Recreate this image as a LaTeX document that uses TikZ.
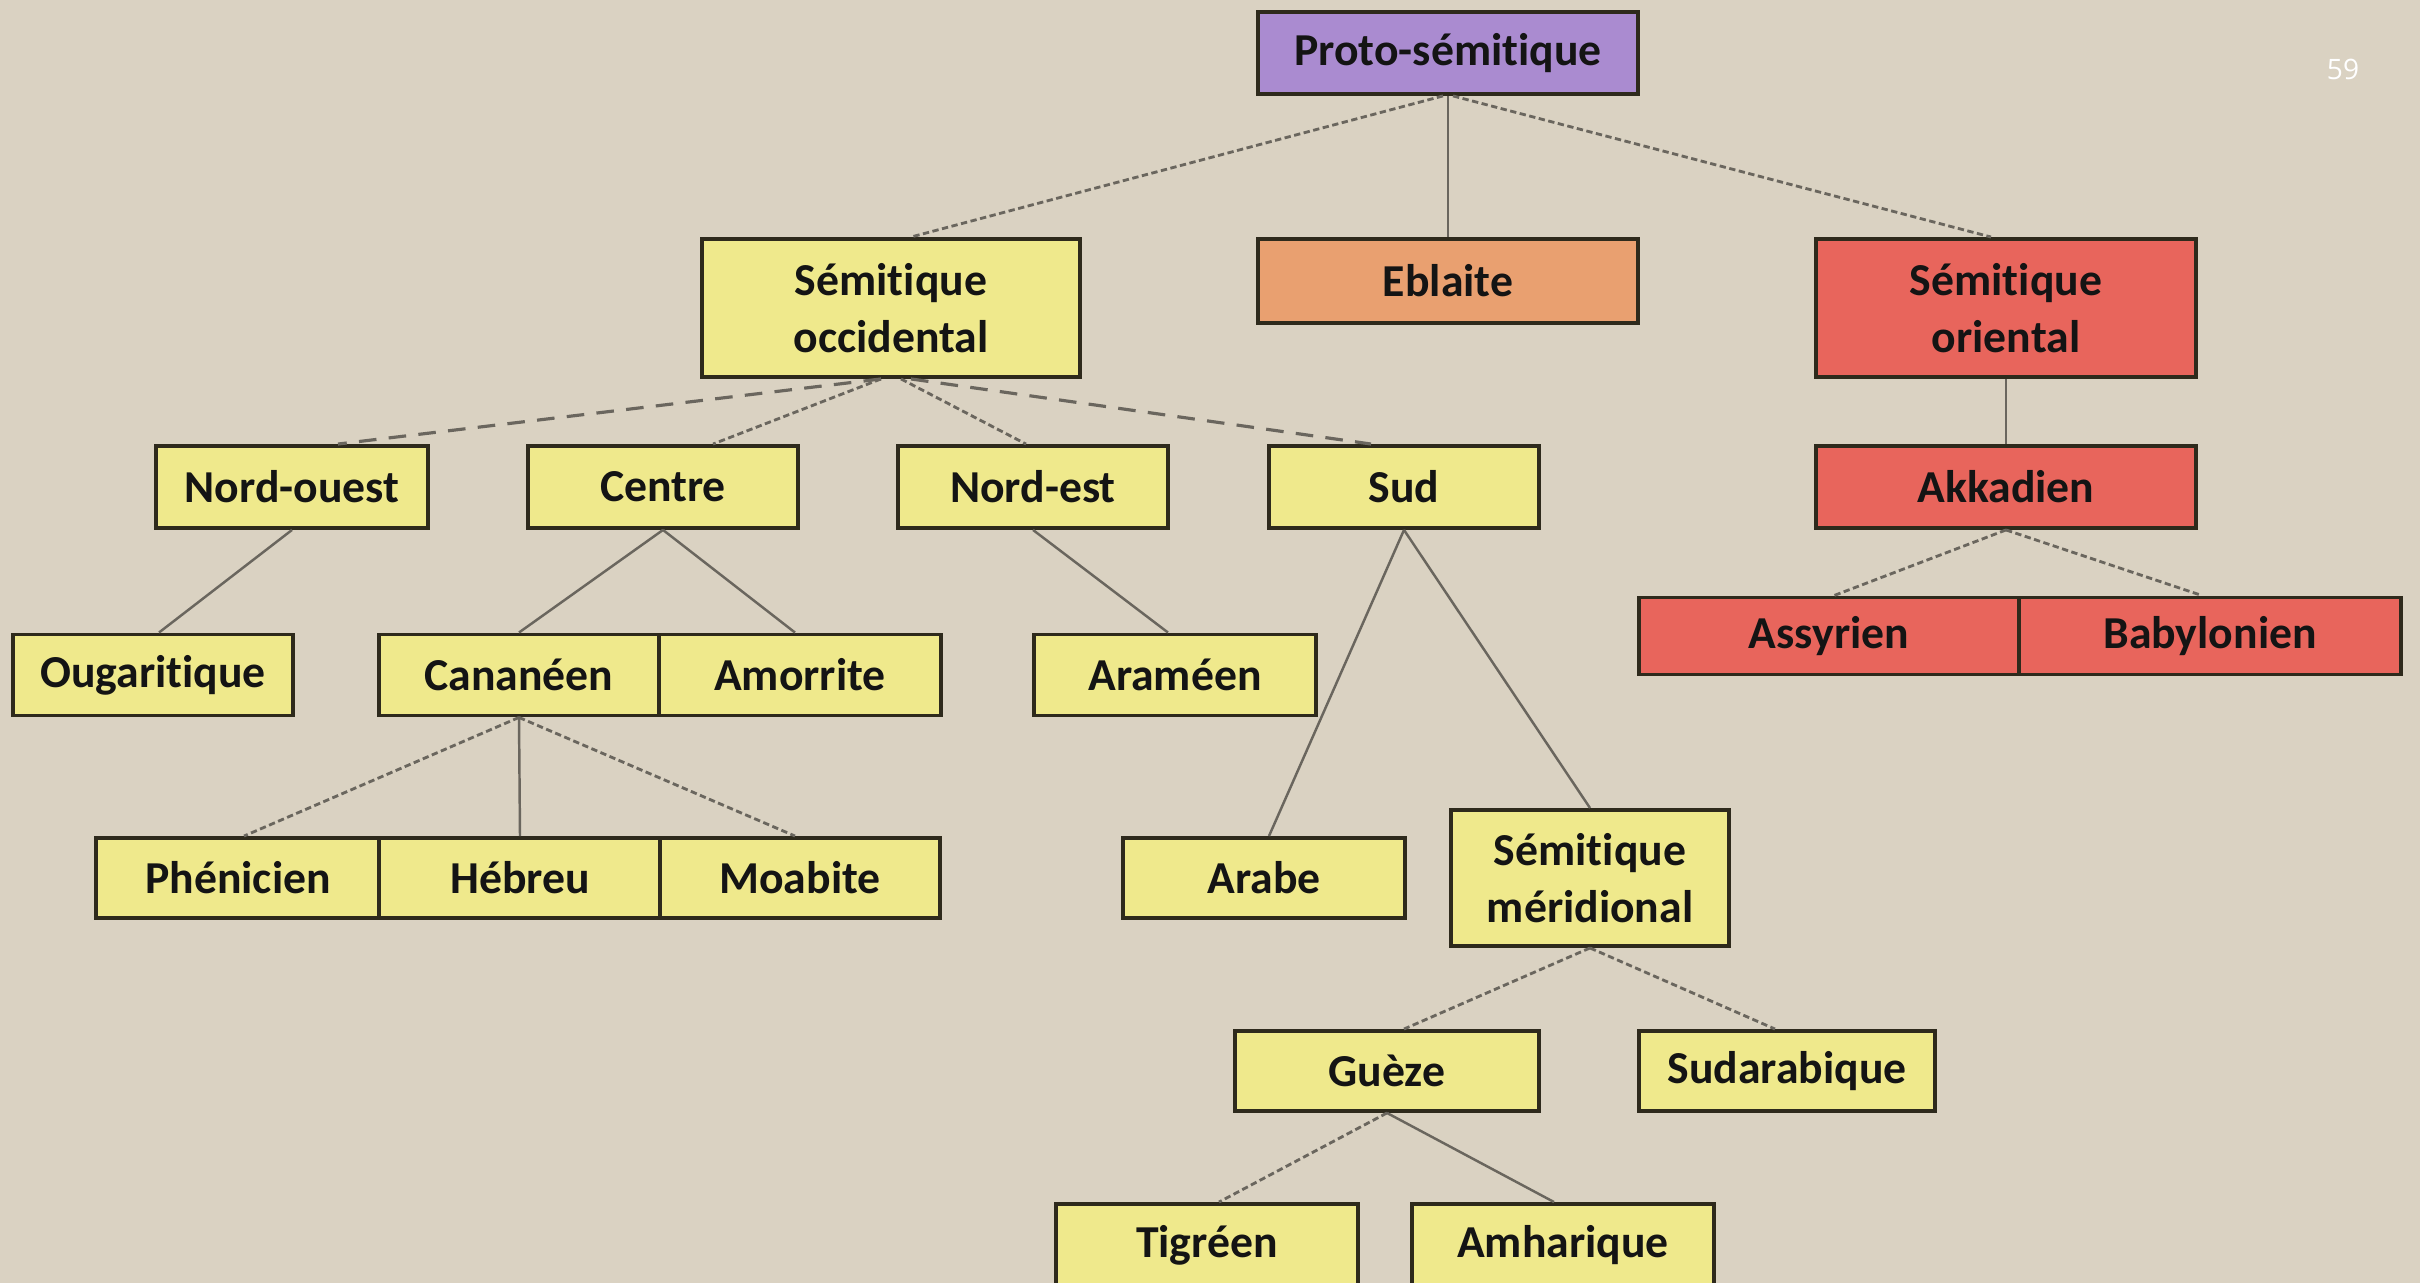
\documentclass[tikz,border=0pt]{standalone}
\usepackage{fontspec}
\setmainfont{Carlito}[Ligatures=NoCommon]
\newfontfamily\pagenumfont{Open Sans}
\definecolor{bgcol}{HTML}{DAD2C2}
\definecolor{boxline}{HTML}{2E2A1C}
\definecolor{ylwfill}{HTML}{EFE98C}
\definecolor{purpfill}{HTML}{AA8BD0}
\definecolor{orgfill}{HTML}{E9A070}
\definecolor{redfill}{HTML}{E8655C}
\definecolor{linkgray}{HTML}{6A665E}
\begin{document}
\begin{tikzpicture}[x=0.01cm,y=-0.01cm,
  lbox/.style={draw=boxline, line width=1.1pt, inner sep=0pt, align=center,
    font=\bfseries\fontsize{13}{16.2}\selectfont, text=black!92},
  ylw/.style={lbox, fill=ylwfill},
  purp/.style={lbox, fill=purpfill},
  org/.style={lbox, fill=orgfill},
  redb/.style={lbox, fill=redfill},
  solidlink/.style={draw=linkgray, line width=0.7pt},
  finedash/.style={draw=linkgray, line width=0.8pt, dash pattern=on 1.8pt off 1pt},
  coarsedash/.style={draw=linkgray, line width=0.9pt, dash pattern=on 5pt off 3.5pt},
]
\useasboundingbox (0,0) rectangle (2420,1283);
\clip (0,0) rectangle (2420,1283);
\fill[bgcol] (0,0) rectangle (2420,1283);

% row 1
\node[purp, minimum width=3.80cm, minimum height=0.82cm] (P) at (1448,53) {Proto-sémitique};
% row 2
\node[ylw, minimum width=3.78cm, minimum height=1.38cm] (SO) at (891,308) {Sémitique\\occidental};
\node[org, minimum width=3.80cm, minimum height=0.84cm] (EB) at (1448,281) {Eblaite};
\node[redb, minimum width=3.79cm, minimum height=1.38cm] (SOR) at (2006,308) {Sémitique\\oriental};
% row 3
\node[ylw, minimum width=2.71cm, minimum height=0.82cm] (NO) at (292,487) {Nord-ouest};
\node[ylw, minimum width=2.70cm, minimum height=0.82cm] (CE) at (663,487) {Centre};
\node[ylw, minimum width=2.70cm, minimum height=0.82cm] (NE) at (1033,487) {Nord-est};
\node[ylw, minimum width=2.70cm, minimum height=0.82cm] (SU) at (1404,487) {Sud};
\node[redb, minimum width=3.79cm, minimum height=0.82cm] (AK) at (2006,487) {Akkadien};
% row 4
\node[ylw, minimum width=2.79cm, minimum height=0.81cm] (OU) at (153,675) {Ougaritique};
\node[ylw, minimum width=2.79cm, minimum height=0.81cm] (CA) at (519,675) {Cananéen};
\node[ylw, minimum width=2.81cm, minimum height=0.81cm] (AM) at (800,675) {Amorrite};
\node[ylw, minimum width=2.81cm, minimum height=0.81cm] (AR) at (1175,675) {Araméen};
\node[redb, minimum width=3.80cm, minimum height=0.77cm] (AS) at (1829,636) {Assyrien};
\node[redb, minimum width=3.81cm, minimum height=0.77cm] (BA) at (2210,636) {Babylonien};
% row 5
\node[ylw, minimum width=2.83cm, minimum height=0.80cm] (PH) at (238,878) {Phénicien};
\node[ylw, minimum width=2.81cm, minimum height=0.80cm] (HE) at (520,878) {Hébreu};
\node[ylw, minimum width=2.79cm, minimum height=0.80cm] (MO) at (800,878) {Moabite};
\node[ylw, minimum width=2.81cm, minimum height=0.80cm] (AB) at (1264,878) {Arabe};
\node[ylw, minimum width=2.78cm, minimum height=1.36cm] (SM) at (1590,878) {Sémitique\\méridional};
% row 6
\node[ylw, minimum width=3.03cm, minimum height=0.80cm] (GU) at (1387,1071) {Guèze};
\node[ylw, minimum width=2.96cm, minimum height=0.80cm] (SA) at (1787,1071) {Sudarabique};
% row 7
\node[ylw, minimum width=3.02cm, minimum height=0.82cm] (TI) at (1207,1245) {Tigréen};
\node[ylw, minimum width=3.01cm, minimum height=0.82cm] (AH) at (1563,1245) {Amharique};

% connectors
\draw[finedash] ([xshift=-0.05cm]P.south) -- ([xshift=0.20cm]SO.north);
\draw[solidlink] (P.south) -- (EB.north);
\draw[finedash] ([xshift=0.05cm]P.south) -- ([xshift=-0.15cm]SOR.north);

\draw[coarsedash] ([xshift=-0.10cm]SO.south) -- ([xshift=0.46cm]NO.north);
\draw[finedash] ([xshift=-0.10cm]SO.south) -- ([xshift=0.50cm]CE.north);
\draw[finedash] ([xshift=0.10cm]SO.south) -- ([xshift=-0.07cm]NE.north);
\draw[coarsedash] ([xshift=0.20cm]SO.south) -- ([xshift=-0.33cm]SU.north);

\draw[solidlink] (SOR.south) -- (AK.north);
\draw[finedash] (AK.south) -- ([xshift=0.05cm]AS.north);
\draw[finedash] (AK.south) -- ([xshift=-0.08cm]BA.north);

\draw[solidlink] (NO.south) -- ([xshift=0.06cm]OU.north);
\draw[solidlink] (CE.south) -- (CA.north);
\draw[solidlink] (CE.south) -- ([xshift=-0.05cm]AM.north);
\draw[solidlink] (NE.south) -- ([xshift=-0.07cm]AR.north);
\draw[solidlink] (SU.south) -- ([xshift=0.05cm]AB.north);
\draw[solidlink] (SU.south) -- (SM.north);

\draw[finedash] (CA.south) -- ([xshift=0.06cm]PH.north);
\draw[solidlink] (CA.south) -- (HE.north);
\draw[finedash] (CA.south) -- ([xshift=-0.05cm]MO.north);

\draw[finedash] (SM.south) -- ([xshift=0.17cm]GU.north);
\draw[finedash] (SM.south) -- ([xshift=-0.12cm]SA.north);
\draw[finedash] (GU.south) -- ([xshift=0.12cm]TI.north);
\draw[solidlink] (GU.south) -- ([xshift=-0.09cm]AH.north);

% page number
\node[text=white, font=\pagenumfont\fontsize{8}{9}\selectfont] (PN) at (2343,69) {59};
\end{tikzpicture}
\end{document}
